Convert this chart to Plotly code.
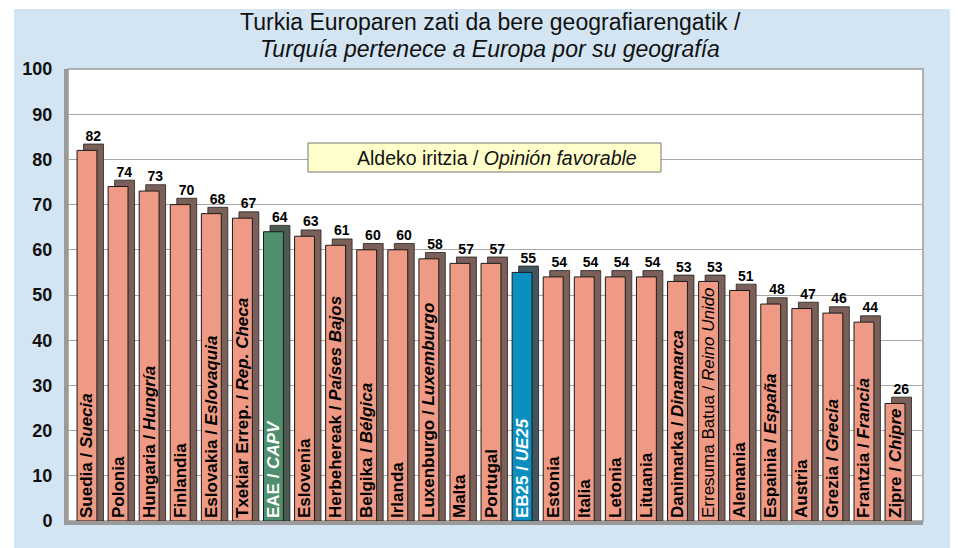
import plotly.graph_objects as go

categories = ["Suedia / Suecia", "Polonia", "Hungaria / Hungría", "Finlandia",
              "Eslovakia / Eslovaquia", "Txekiar Errep. / Rep. Checa", "EAE / CAPV",
              "Eslovenia", "Herbehereak / Países Bajos", "Belgika / Bélgica", "Irlanda",
              "Luxenburgo / Luxemburgo", "Malta", "Portugal", "EB25 / UE25", "Estonia",
              "Italia", "Letonia", "Lituania", "Danimarka / Dinamarca",
              "Erresuma Batua / Reino Unido", "Alemania", "Espainia / España", "Austria",
              "Grezia / Grecia", "Frantzia / Francia", "Zipre / Chipre"]
values = [82, 74, 73, 70, 68, 67, 64, 63, 61, 60, 60, 58, 57, 57, 55, 54, 54, 54, 54,
          53, 53, 51, 48, 47, 46, 44, 26]
y_ticks = [0, 10, 20, 30, 40, 50, 60, 70, 80, 90, 100]

FONT = "Arial, Liberation Sans, sans-serif"
SALMON = "#EE9A84"
GREEN = "#4F8F6E"
BLUE = "#0B8FC0"


def bar_label(name):
    if " / " in name:
        a, b = name.split(" / ", 1)
        t = f"{a} / <i>{b}</i>"
    else:
        t = name
    if name.startswith("Erresuma"):
        return t
    return f"<b>{t}</b>"


front_colors = []
side_colors = []
text_colors = []
for c in categories:
    if c.startswith("EAE"):
        front_colors.append(GREEN); side_colors.append("#4d5a52"); text_colors.append("white")
    elif c.startswith("EB25"):
        front_colors.append(BLUE); side_colors.append("#3f5560"); text_colors.append("white")
    else:
        front_colors.append(SALMON); side_colors.append("#7a6059"); text_colors.append("black")

x_idx = list(range(len(categories)))
DEPTH_X = 0.21
DEPTH_Y = 1.4
W = 0.64

fig = go.Figure()
# 3D side/top (shadow) bars
fig.add_trace(go.Bar(
    x=x_idx, y=[v + DEPTH_Y for v in values], width=W, offset=-W / 2 + DEPTH_X,
    marker=dict(color=side_colors, line=dict(color="#222", width=0.8)),
    hoverinfo="skip", showlegend=False))
# front faces
fig.add_trace(go.Bar(
    x=x_idx, y=values, width=W, offset=-W / 2,
    marker=dict(color=front_colors, line=dict(color="#1a1a1a", width=1)),
    text=[bar_label(c) for c in categories], textposition="inside",
    textangle=-90, insidetextanchor="start", constraintext="none",
    insidetextfont=dict(family=FONT, size=17, color=text_colors),
    cliponaxis=False, showlegend=False, hovertext=categories, hoverinfo="text+y"))
# value labels
fig.add_trace(go.Scatter(
    x=[i + 0.2 for i in x_idx], y=[v + DEPTH_Y for v in values], mode="text",
    text=[str(v) for v in values], textposition="top center",
    textfont=dict(family=FONT, size=14, color="black", weight="bold"),
    showlegend=False, hoverinfo="skip", cliponaxis=False))

# page is offset by 8px (body margin); figure drawn 8px smaller
OFF = 8
FW, FH = 958 - OFF, 548 - OFF
L, R, T, B = 68 - OFF, 35, 69 - OFF, 27
PW, PH = FW - L - R, FH - T - B


def px_x(p):
    return (p - OFF - L) / PW


def px_y(p):
    return (FH - B - (p - OFF)) / PH


shapes = [
    dict(type="rect", xref="paper", yref="paper", x0=px_x(14), x1=px_x(953),
         y0=px_y(560), y1=px_y(9), fillcolor="#D3E5F3", line=dict(width=0), layer="below"),
    dict(type="rect", xref="paper", yref="paper", x0=0, x1=1, y0=0, y1=1,
         fillcolor="white", line=dict(color="#9a9a9a", width=1.5), layer="below"),
    dict(type="rect", xref="paper", yref="paper", x0=px_x(308), x1=px_x(661),
         y0=px_y(172), y1=px_y(143), fillcolor="#FFFFCC",
         line=dict(color="#777", width=1), layer="above"),
]

annotations = [
    dict(text="Turkia Europaren zati da bere geografiarengatik /", xref="paper", yref="paper",
         x=px_x(490), y=px_y(22), showarrow=False, xanchor="center", yanchor="middle",
         font=dict(family=FONT, size=23, color="#111")),
    dict(text="<i>Turquía pertenece a Europa por su geografía</i>", xref="paper", yref="paper",
         x=px_x(490), y=px_y(49), showarrow=False, xanchor="center", yanchor="middle",
         font=dict(family=FONT, size=23, color="#111")),
    dict(text="Aldeko iritzia / <i>Opinión favorable</i>", xref="paper", yref="paper",
         x=px_x(497), y=px_y(157.5), showarrow=False, xanchor="center", yanchor="middle",
         font=dict(family=FONT, size=19.5, color="#111")),
]

fig.update_layout(
    width=FW, height=FH, margin=dict(l=L, r=R, t=T, b=B),
    paper_bgcolor="white", plot_bgcolor="rgba(0,0,0,0)",
    barmode="overlay", bargap=0.3,
    shapes=shapes, annotations=annotations,
    xaxis=dict(range=[-0.611, 26.9], showticklabels=False, showgrid=False, zeroline=False,
               showline=True, linecolor="#9a9a9a", linewidth=4, fixedrange=True),
    yaxis=dict(range=[0, 100], tickvals=y_ticks, ticktext=[str(t) for t in y_ticks],
               showgrid=True, gridcolor="#A8A8A8", gridwidth=1.3, zeroline=False,
               showline=True, linecolor="#9a9a9a", linewidth=4, mirror=False,
               ticks="outside", ticklen=8, tickcolor="rgba(0,0,0,0)",
               tickfont=dict(family=FONT, size=18, color="#111", weight="bold")),
    font=dict(family=FONT),
)

fig.write_html("out.html")
